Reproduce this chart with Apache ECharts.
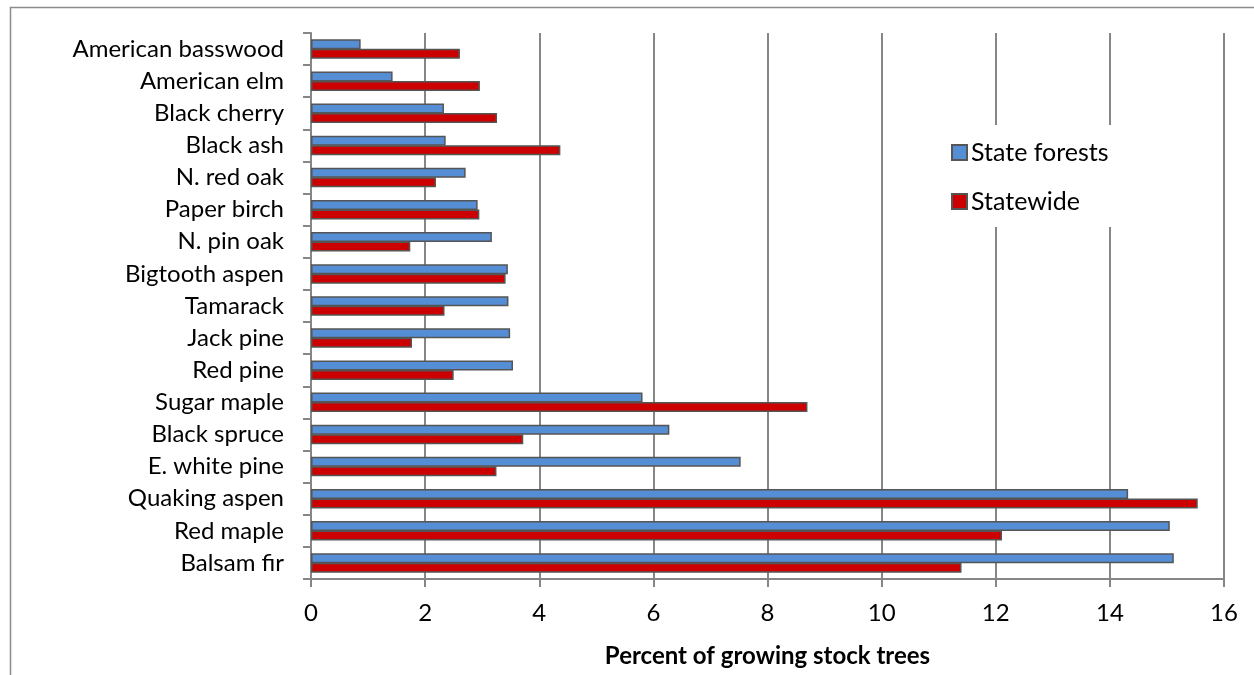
<!DOCTYPE html>
<html>
<head>
<meta charset="utf-8">
<script src="https://cdn.jsdelivr.net/npm/echarts@6/dist/echarts.min.js"></script>
<style>
  html, body { margin: 0; padding: 0; background: #fff; }
</style>
</head>
<body>
<div id="main" style="width: 1254px; height: 675px"></div>
<script>
// 数据（从上到下）
const species = [
  'American basswood', 'American elm', 'Black cherry', 'Black ash', 'N. red oak',
  'Paper birch', 'N. pin oak', 'Bigtooth aspen', 'Tamarack', 'Jack pine',
  'Red pine', 'Sugar maple', 'Black spruce', 'E. white pine', 'Quaking aspen',
  'Red maple', 'Balsam fir'
]
const stateForests = [0.87, 1.43, 2.33, 2.36, 2.71, 2.92, 3.17, 3.45, 3.46, 3.49, 3.54, 5.81, 6.28, 7.53, 14.32, 15.05, 15.12]
const statewide = [2.61, 2.96, 3.26, 4.37, 2.19, 2.95, 1.74, 3.41, 2.34, 1.77, 2.50, 8.70, 3.72, 3.25, 15.54, 12.11, 11.40]
const xTicks = [0, 2, 4, 6, 8, 10, 12, 14, 16]

const myChart = echarts.init(document.getElementById('main'))
const font = 'Lato, "Open Sans", sans-serif'

const option = {
  animation: false,
  textStyle: { fontFamily: font },
  // 外框
  graphic: [
    {
      type: 'rect',
      shape: { x: 10.5, y: 7.5, width: 1300, height: 700 },
      style: { fill: 'none', stroke: '#8c8c8c', lineWidth: 1.5 },
      z: -1
    }
  ],
  legend: {
    data: ['State forests', 'Statewide'],
    orient: 'vertical',
    left: 941,
    top: 125,
    padding: [15, 14, 13, 10],
    itemGap: 24,
    itemWidth: 15,
    itemHeight: 15,
    icon: 'rect',
    backgroundColor: '#fff',
    textStyle: { fontSize: 25, color: '#000', fontFamily: font, padding: [0, 0, 0, -1] },
    z: 10
  },
  grid: {
    left: 311,
    right: 30,
    top: 33,
    bottom: 96,
    containLabel: false
  },
  xAxis: {
    type: 'value',
    min: xTicks[0],
    max: xTicks[xTicks.length - 1],
    interval: 2,
    name: 'Percent of growing stock trees',
    nameLocation: 'middle',
    nameGap: 65,
    nameTextStyle: { fontSize: 24, fontWeight: 'bold', color: '#000', fontFamily: font },
    axisLine: { show: true, lineStyle: { color: '#868686', width: 2 } },
    axisTick: { show: true, length: 8, lineStyle: { color: '#868686', width: 2 } },
    axisLabel: { fontSize: 24, color: '#000', margin: 22, fontFamily: font },
    splitLine: { show: true, lineStyle: { color: '#868686', width: 2 } }
  },
  yAxis: {
    type: 'category',
    data: species,
    inverse: true,
    axisLine: { show: true, lineStyle: { color: '#868686', width: 2 } },
    axisTick: { show: true, length: 8, lineStyle: { color: '#868686', width: 2 } },
    axisLabel: { fontSize: 24, color: '#000', margin: 27, fontFamily: font },
    splitLine: { show: false }
  },
  series: [
    {
      name: 'State forests',
      type: 'bar',
      data: stateForests,
      barWidth: 10,
      barGap: '-5%',
      itemStyle: { color: '#558ed5', borderColor: '#555', borderWidth: 1.5 }
    },
    {
      name: 'Statewide',
      type: 'bar',
      data: statewide,
      barWidth: 10,
      itemStyle: { color: '#cc0000', borderColor: '#555', borderWidth: 1.5 }
    }
  ]
}
myChart.setOption(option)
</script>
</body>
</html>
